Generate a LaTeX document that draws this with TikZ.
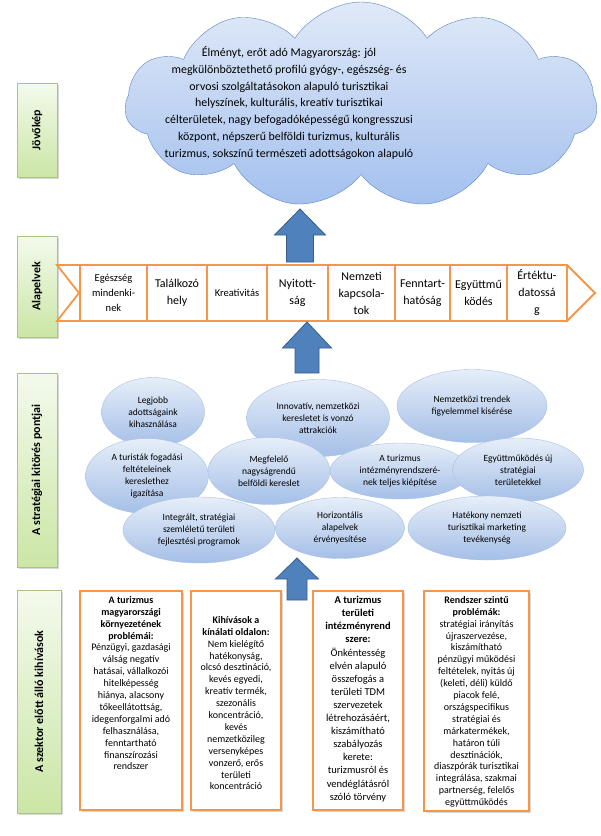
\documentclass[tikz,border=0pt]{standalone}
\usepackage{fontspec}
\setmainfont{Carlito}
\usepackage{tikz}
\usetikzlibrary{positioning,shapes.symbols,shapes.geometric,shadows}
\definecolor{RowOrange}{HTML}{F79646}
\definecolor{ArrowBlue}{HTML}{4F81BD}
\definecolor{ArrowEdge}{HTML}{385D8A}
\definecolor{CloudTop}{HTML}{E0E9F8}
\definecolor{CloudBottom}{HTML}{A3C0EE}
\definecolor{CloudEdge}{HTML}{5A86C4}
\definecolor{EllTop}{HTML}{E6EEF9}
\definecolor{EllBottom}{HTML}{A5BFE7}
\definecolor{EllEdge}{HTML}{A9C1E2}
\definecolor{LabelTop}{HTML}{F3FAEC}
\definecolor{LabelBottom}{HTML}{CBE6A6}
\definecolor{LabelEdge}{HTML}{A7C389}

\begin{document}
\begin{tikzpicture}[x=1pt,y=1pt,node distance=0pt,
  sidebox/.style={draw=LabelEdge,top color=LabelTop,bottom color=LabelBottom,drop shadow={shadow xshift=1.5pt,shadow yshift=-1.5pt,opacity=.3},inner sep=0pt,minimum width=40,font=\bfseries\fontsize{12}{14}\selectfont},
  pillar/.style={draw=RowOrange,line width=1.8pt,outer sep=0pt,minimum height=56,inner sep=1pt,align=center,font=\fontsize{12}{17}\selectfont},
  smallpillar/.style={pillar,font=\fontsize{10.5}{15}\selectfont},
  breakout/.style={ellipse,draw=EllEdge,top color=EllTop,bottom color=EllBottom,inner sep=0pt,align=center,font=\fontsize{9.5}{12}\selectfont},
  challenge/.style={draw=RowOrange,line width=1.8pt,fill=white,drop shadow={shadow xshift=1.5pt,shadow yshift=-1.5pt,opacity=.3},inner sep=0pt},
  boxtext/.style={align=center,inner sep=0pt,font=\fontsize{10}{11.9}\selectfont},
  blockarr/.style={draw=ArrowEdge,fill=ArrowBlue,line width=.8pt,line join=miter}]
\useasboundingbox (0,0) rectangle (601,-836);
\fill[white] (0,0) rectangle (601,-836);

\node[sidebox,minimum height=94] (lvision) at (37,-130) {\rotatebox{90}{Jövőkép}};
\node[sidebox,minimum height=101] (lprinc) at (37,-286.5) {\rotatebox{90}{Alapelvek}};
\node[sidebox,minimum height=194] (lbreak) at (37,-470) {\rotatebox{90}{A stratégiai kitörés pontjai}};
\node[sidebox,minimum height=223,minimum width=44] (lchall) at (39,-701.5) {\rotatebox{90}{A szektor előtt álló kihívások}};

\node[cloud,cloud puffs=11,cloud puff arc=115,draw=CloudEdge,top color=CloudTop,bottom color=CloudBottom,minimum width=472,minimum height=206] (vision) at (361,-105) {};
\node[align=center,font=\fontsize{11.9}{16.7}\selectfont] (visiontext) at (289,-103) {Élményt, erőt adó Magyarország: jól\\megkülönböztethető profilú gyógy-, egészség- és\\orvosi szolgáltatásokon alapuló turisztikai\\helyszínek, kulturális, kreatív turisztikai\\célterületek, nagy befogadóképességű kongresszusi\\központ, népszerű belföldi turizmus, kulturális\\turizmus, sokszínű természeti adottságokon alapuló};

\draw[RowOrange,line width=1.8pt,fill=white] (57,-265) -- (567,-265) -- (595,-293) -- (567,-321) -- (57,-321) -- (79,-293) -- cycle;
\node[smallpillar,minimum width=67,anchor=west] (p1) at (80,-293) {Egészség\\mindenki-\\nek};
\node[pillar,minimum width=60,right=of p1] (p2) {Találkozó\\hely};
\node[smallpillar,minimum width=60,right=of p2] (p3) {Kreativitás};
\node[pillar,minimum width=61,right=of p3] (p4) {Nyitott-\\ság};
\node[pillar,minimum width=67,right=of p4] (p5) {Nemzeti\\kapcsola-\\tok};
\node[pillar,minimum width=55,right=of p5] (p6) {Fenntart-\\hatóság};
\node[pillar,minimum width=57,right=of p6] (p7) {Együttmű\\ködés};
\node[pillar,minimum width=60,right=of p7] (p8) {Értéktu-\\datossá\\g};

\coordinate (up1) at (300,-262);
\draw[blockarr] (up1) ++(-13.5,0) -- ++(0,27) -- ++(-12,0) -- ++(25.5,26) -- ++(25.5,-26) -- ++(-12,0) -- ++(0,-27) -- cycle;
\coordinate (up2) at (307,-373);
\draw[blockarr] (up2) ++(-12,0) -- ++(0,25) -- ++(-12.5,0) -- ++(24.5,26) -- ++(24.5,-26) -- ++(-12.5,0) -- ++(0,-25) -- cycle;

\node[breakout,minimum width=103,minimum height=69] (e1) at (153,-412) {Legjobb\\adottságaink\\kihasználása};
\node[breakout,minimum width=143,minimum height=77] (e2) at (318,-418) {Innovatív, nemzetközi\\keresletet is vonzó\\attrakciók};
\node[breakout,minimum width=150,minimum height=73] (e3) at (472,-406) {Nemzetközi trendek\\figyelemmel kisérése};
\node[breakout,minimum width=123,minimum height=75] (e4) at (147,-476) {A turisták fogadási\\feltételeinek\\kereslethez\\igazítása};
\node[breakout,minimum width=122,minimum height=67] (e5) at (269,-471) {Megfelelő\\nagyságrendű\\belföldi kereslet};
\node[breakout,minimum width=140,minimum height=56] (e6) at (400,-471) {A turizmus\\intézményrendszeré-\\nek teljes kiépítése};
\node[breakout,minimum width=131,minimum height=64] (e7) at (518,-470) {Együttműködés új\\stratégiai\\területekkel};
\node[breakout,minimum width=152,minimum height=66] (e8) at (199,-530) {Integrált, stratégiai\\szemléletű területi\\fejlesztési programok};
\node[breakout,minimum width=129,minimum height=61] (e9) at (340,-528) {Horizontális\\alapelvek\\érvényesítése};
\node[breakout,minimum width=158,minimum height=64] (e10) at (487,-528) {Hatékony nemzeti\\turisztikai marketing\\tevékenység};

\node[challenge,minimum width=102,minimum height=219] (b1) at (131,-700.5) {};
\node[challenge,minimum width=90,minimum height=219] (b2) at (236,-700.5) {};
\node[challenge,minimum width=90,minimum height=219] (b3) at (358,-700.5) {};
\node[challenge,minimum width=105,minimum height=220] (b4) at (476.5,-701) {};
\coordinate (up3) at (297,-600);
\draw[blockarr] (up3) ++(-10,0) -- ++(0,21) -- ++(-11.5,0) -- ++(21.5,21) -- ++(21.5,-21) -- ++(-11.5,0) -- ++(0,-21) -- cycle;

\node[boxtext,below=6pt of b1.north] (b1t) {\textbf{A turizmus}\\\textbf{magyarországi}\\\textbf{környezetének}\\\textbf{problémái:}\\Pénzügyi, gazdasági\\válság negatív\\hatásai, vállalkozói\\hitelképesség\\hiánya, alacsony\\tőkeellátottság,\\idegenforgalmi adó\\felhasználása,\\fenntartható\\finanszírozási\\rendszer};
\node[boxtext,below=26pt of b2.north] (b2t) {\textbf{Kihívások a}\\\textbf{kínálati oldalon:}\\Nem kielégítő\\hatékonyság,\\olcsó desztináció,\\kevés egyedi,\\kreatív termék,\\szezonális\\koncentráció,\\kevés\\nemzetközileg\\versenyképes\\vonzerő, erős\\területi\\koncentráció};
\node[boxtext,font=\fontsize{10.5}{13.1}\selectfont,below=6pt of b3.north] (b3t) {\textbf{A turizmus}\\\textbf{területi}\\\textbf{intézményrend}\\\textbf{szere:}\\Önkéntesség\\elvén alapuló\\összefogás a\\területi TDM\\szervezetek\\létrehozásáért,\\kiszámítható\\szabályozás\\kerete:\\turizmusról és\\vendéglátásról\\szóló törvény};
\node[boxtext,below=6pt of b4.north] (b4t) {\textbf{Rendszer szintű}\\\textbf{problémák:}\\stratégiai irányítás\\újraszervezése,\\kiszámítható\\pénzügyi működési\\feltételek, nyitás új\\(keleti, déli) küldő\\piacok felé,\\országspecifikus\\stratégiai és\\márkatermékek,\\határon túli\\desztinációk,\\diaszpórák turisztikai\\integrálása, szakmai\\partnerség, felelős\\együttműködés};
\end{tikzpicture}
\end{document}
